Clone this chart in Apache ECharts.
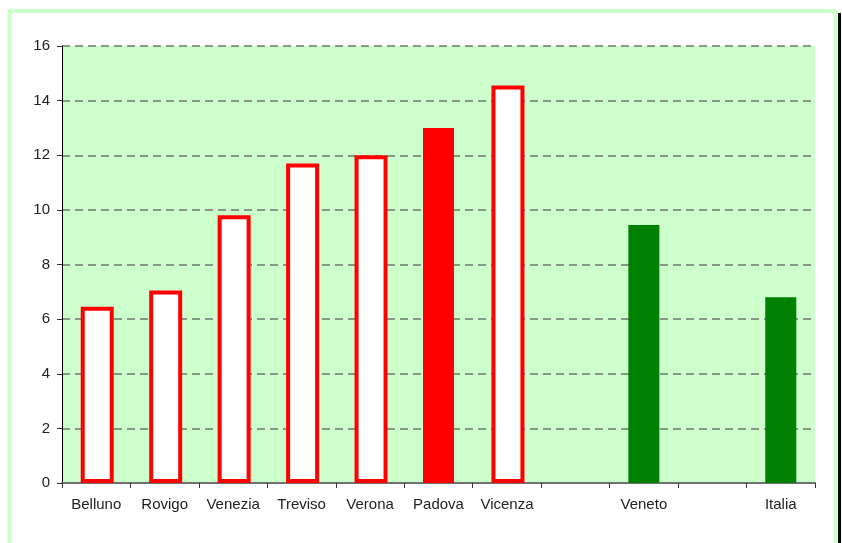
<!DOCTYPE html>
<html>
<head>
<meta charset="utf-8">
<script src="https://cdn.jsdelivr.net/npm/echarts@6/dist/echarts.min.js"></script>
<style>
	html, body { margin: 0; padding: 0; background: #fff; }
	#chart { width: 842px; height: 543px; }
</style>
</head>
<body>
<div id="chart"></div>
<script>
/*categorie (le due vuote fanno da spazio)*/
var categories = ['Belluno', 'Rovigo', 'Venezia', 'Treviso', 'Verona', 'Padova', 'Vicenza', ' ', 'Veneto', '  ', 'Italia'];
/*valori*/
var values = [6.45, 7.05, 9.8, 11.7, 12.0, 13.0, 14.55, null, 9.45, null, 6.8];
/*tipo di barra: contorno rosso, rosso pieno, verde pieno*/
var kinds = ['outline', 'outline', 'outline', 'outline', 'outline', 'red', 'outline', '', 'green', '', 'green'];

var outlineData = values.map(function(v, i) {
	return kinds[i] === 'outline' ? v : '-';
});
var solidData = values.map(function(v, i) {
	if (kinds[i] === 'red') return { value: v, itemStyle: { color: '#ff0000' } };
	if (kinds[i] === 'green') return { value: v, itemStyle: { color: '#008000' } };
	return '-';
});

var myChart = echarts.init(document.getElementById('chart'));
var option = {
	animation: false,
	textStyle: { fontFamily: 'Liberation Sans, Arial, sans-serif' },
	grid: {
		left: 62,
		right: 27,
		top: 46,
		bottom: 60,
		show: true,
		backgroundColor: '#ccffcc',
		borderWidth: 0
	},
	graphic: [
		{
			type: 'rect',
			shape: { x: 9.5, y: 11, width: 826, height: 600 },
			style: { fill: 'none', stroke: '#ccffcc', lineWidth: 4 },
			silent: true
		},
		{
			type: 'line',
			shape: { x1: 839.5, y1: 13, x2: 839.5, y2: 543 },
			style: { stroke: '#000', lineWidth: 3 },
			silent: true
		}
	],
	xAxis: {
		type: 'category',
		data: categories,
		axisLine: { lineStyle: { color: '#707070', width: 2 } },
		axisTick: { show: true, length: 5, lineStyle: { color: '#333', width: 1 } },
		axisLabel: { color: '#222', fontSize: 15, margin: 14, interval: 0 },
		splitLine: { show: false }
	},
	yAxis: {
		type: 'value',
		min: 0,
		max: 16,
		interval: 2,
		axisLine: { show: true, lineStyle: { color: '#000', width: 1 } },
		axisTick: { show: true, length: 5, lineStyle: { color: '#333' } },
		axisLabel: { color: '#222', fontSize: 15, margin: 12 },
		splitLine: {
			show: true,
			lineStyle: { color: '#6b786b', width: 1.5, type: [8, 5] }
		}
	},
	series: [
		{
			name: 'contorno',
			type: 'bar',
			barWidth: 33,
			barGap: '-100%',
			data: outlineData,
			itemStyle: { color: '#ffffff', borderColor: '#ff0000', borderWidth: 4 },
			z: 3
		},
		{
			name: 'pieno',
			type: 'bar',
			barWidth: 31,
			barGap: '-100%',
			data: solidData,
			z: 3
		}
	]
};
myChart.setOption(option);
</script>
</body>
</html>
